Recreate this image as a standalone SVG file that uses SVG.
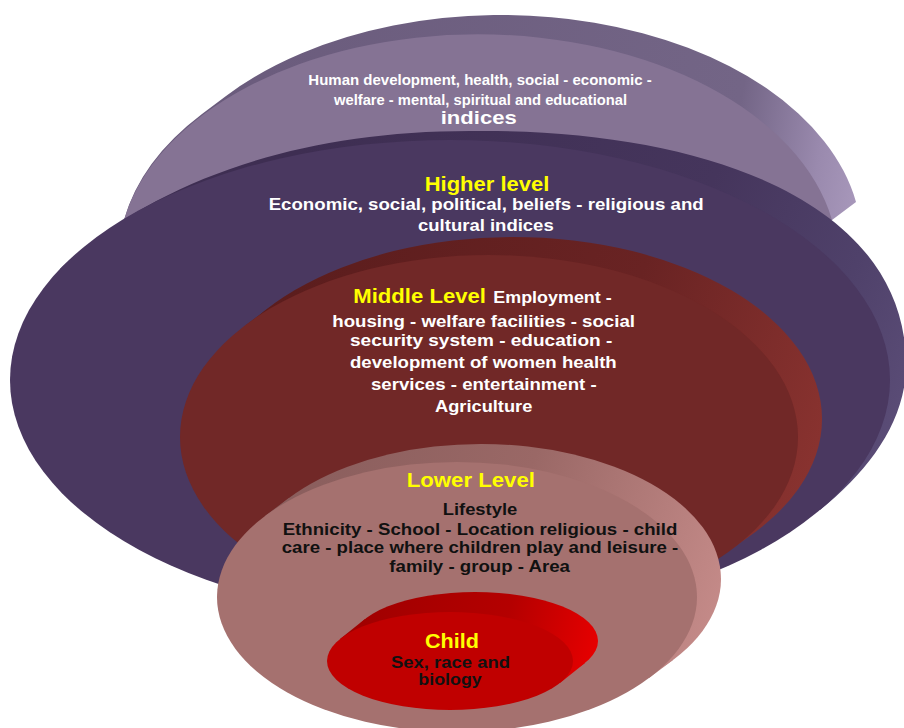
<svg xmlns="http://www.w3.org/2000/svg" width="904" height="728" viewBox="0 0 904 728">
  <defs>
    <linearGradient id="gTop" gradientUnits="userSpaceOnUse" x1="200" y1="100" x2="858" y2="210">
      <stop offset="0" stop-color="#6a5b7c"/>
      <stop offset="0.8" stop-color="#736586"/>
      <stop offset="0.93" stop-color="#9a8aae"/>
      <stop offset="1" stop-color="#a898bb"/>
    </linearGradient>
    <linearGradient id="gDark" gradientUnits="userSpaceOnUse" x1="300" y1="150" x2="906" y2="400">
      <stop offset="0" stop-color="#3e2e52"/>
      <stop offset="0.6" stop-color="#45355c"/>
      <stop offset="0.85" stop-color="#4f416a"/>
      <stop offset="1" stop-color="#5a4c76"/>
    </linearGradient>
    <linearGradient id="gRed" gradientUnits="userSpaceOnUse" x1="300" y1="260" x2="822" y2="430">
      <stop offset="0" stop-color="#5c1d1d"/>
      <stop offset="0.6" stop-color="#692323"/>
      <stop offset="1" stop-color="#88322f"/>
    </linearGradient>
    <linearGradient id="gPink" gradientUnits="userSpaceOnUse" x1="300" y1="460" x2="721" y2="600">
      <stop offset="0" stop-color="#8a5e5d"/>
      <stop offset="0.5" stop-color="#9a6866"/>
      <stop offset="1" stop-color="#c48a88"/>
    </linearGradient>
    <linearGradient id="gChild" gradientUnits="userSpaceOnUse" x1="360" y1="600" x2="598" y2="660">
      <stop offset="0" stop-color="#a00000"/>
      <stop offset="0.6" stop-color="#b40000"/>
      <stop offset="1" stop-color="#e80000"/>
    </linearGradient>
  </defs>
  <style>
    text { font-family: "Liberation Sans", Arial, sans-serif; font-weight: bold; }
    .w { fill: #ffffff; }
    .y { fill: #ffff00; }
    .k { fill: #111111; }
  </style>

  <g id="connectors"/>

  <g id="top-indices">
    <path d="M124,220 L832,220 L856,202 A360,227 0 0 0 226,96 L202,114 A360,227 0 0 0 124,220 Z" fill="url(#gTop)"/>
    <path d="M124,220 A360,227 0 0 1 832,220 Z" fill="#857394"/>
    <text class="w" x="308.3" y="84.5" font-size="15" textLength="343.4" lengthAdjust="spacingAndGlyphs">Human development, health, social - economic -</text>
    <text class="w" x="334" y="104.5" font-size="15" textLength="293" lengthAdjust="spacingAndGlyphs">welfare - mental, spiritual and educational</text>
    <text class="w" x="440.7" y="123.5" font-size="19" textLength="76" lengthAdjust="spacingAndGlyphs">indices</text>
  </g>

  <g id="higher-level">
    <path d="M60,269 C150,185 290,131 470,131 C700,128 906,200 906,365 C906,420 870,470 820,510 L450,380 Z" fill="url(#gDark)"/>
    <ellipse cx="450" cy="380" rx="440" ry="240" fill="#4a3860"/>
    <text class="y" x="424.7" y="191.3" font-size="20" textLength="124.6" lengthAdjust="spacingAndGlyphs">Higher level</text>
    <text class="w" x="268.7" y="210.3" font-size="16.5" textLength="435" lengthAdjust="spacingAndGlyphs">Economic, social, political, beliefs - religious and</text>
    <text class="w" x="418" y="231.3" font-size="16.5" textLength="135.7" lengthAdjust="spacingAndGlyphs">cultural indices</text>
  </g>

  <g id="middle-level">
    <ellipse cx="513" cy="419" rx="309" ry="182" fill="url(#gRed)"/>
    <polygon points="732,549 756,531 270,307 246,325" fill="url(#gRed)"/>
    <ellipse cx="489" cy="437" rx="309" ry="182" fill="#712827"/>
    <text class="y" x="353.3" y="303" font-size="19.5" textLength="132.7" lengthAdjust="spacingAndGlyphs">Middle Level</text>
    <text class="w" x="493.3" y="303" font-size="16.5" textLength="118.4" lengthAdjust="spacingAndGlyphs">Employment -</text>
    <text class="w" x="332.3" y="327" font-size="16.5" textLength="302.7" lengthAdjust="spacingAndGlyphs">housing - welfare facilities - social</text>
    <text class="w" x="350" y="346.3" font-size="16.5" textLength="262.3" lengthAdjust="spacingAndGlyphs">security system - education -</text>
    <text class="w" x="350" y="368" font-size="16.5" textLength="266.7" lengthAdjust="spacingAndGlyphs">development of women health</text>
    <text class="w" x="371" y="390.3" font-size="16.5" textLength="225.7" lengthAdjust="spacingAndGlyphs">services - entertainment -</text>
    <text class="w" x="435" y="412" font-size="16.5" textLength="97.3" lengthAdjust="spacingAndGlyphs">Agriculture</text>
  </g>

  <g id="lower-level">
    <ellipse cx="481" cy="579" rx="240" ry="135" fill="url(#gPink)"/>
    <polygon points="649,678 673,660 289,498 265,516" fill="url(#gPink)"/>
    <ellipse cx="457" cy="597" rx="240" ry="135" fill="#a5716f"/>
    <text class="y" x="406.7" y="487" font-size="20" textLength="128.3" lengthAdjust="spacingAndGlyphs">Lower Level</text>
    <text class="k" x="442.7" y="515.3" font-size="16" textLength="74.6" lengthAdjust="spacingAndGlyphs">Lifestyle</text>
    <text class="k" x="282.7" y="534.7" font-size="16" textLength="394.6" lengthAdjust="spacingAndGlyphs">Ethnicity - School - Location religious - child</text>
    <text class="k" x="281.7" y="553" font-size="16" textLength="396.6" lengthAdjust="spacingAndGlyphs">care - place where children play and leisure -</text>
    <text class="k" x="389.3" y="572" font-size="16" textLength="180.7" lengthAdjust="spacingAndGlyphs">family - group - Area</text>
  </g>

  <g id="child">
    <ellipse cx="475" cy="641" rx="123" ry="49" fill="url(#gChild)"/>
    <polygon points="560,683 585,663 365,619 340,639" fill="url(#gChild)"/>
    <ellipse cx="450" cy="661" rx="123" ry="49" fill="#c00000"/>
    <text class="y" x="425" y="647.7" font-size="19.5" textLength="54" lengthAdjust="spacingAndGlyphs">Child</text>
    <text class="k" x="391" y="667.7" font-size="16" textLength="119" lengthAdjust="spacingAndGlyphs">Sex, race and</text>
    <text class="k" x="418.3" y="685" font-size="16" textLength="63.4" lengthAdjust="spacingAndGlyphs">biology</text>
  </g>
</svg>
